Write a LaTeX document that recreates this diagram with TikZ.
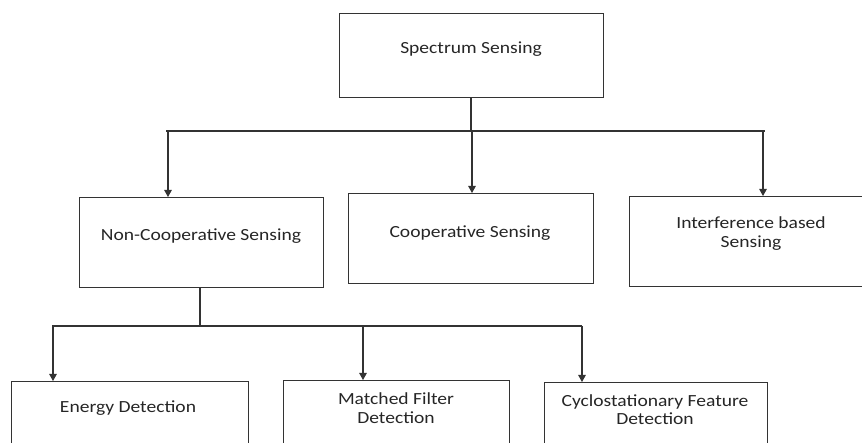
\documentclass[tikz,border=0pt]{standalone}
\usepackage{fontspec}
\setmainfont[FakeStretch=1.15]{Carlito}
\usetikzlibrary{arrows.meta}

\tikzset{
  box/.style={draw=black!80, line width=1.2pt, fill=white, minimum height=90pt, inner sep=0pt},
  lbl/.style={text=black!85, font=\fontsize{17}{18.5}\selectfont, align=center, inner sep=0pt},
  wire/.style={draw=black!80, line width=1.1pt},
  arr/.style={wire, -{Triangle[width=7.5pt,length=7pt]}},
}

\begin{document}
\begin{tikzpicture}[x=1pt, y=-1pt]
  \useasboundingbox (0,0) rectangle (862,443);
  \fill[white] (0,0) rectangle (862,443);
  \clip (0,0) rectangle (862,443);

  % root
  \node[box, minimum width=264pt, minimum height=84pt, anchor=north west] (root) at (339,13) {};
  \node[lbl] (roott) at (471,49) {Spectrum Sensing};

  % first level
  \node[box, minimum width=244pt, anchor=north west] (nc) at (79,197) {};
  \node[lbl] (nct) at (201,236) {Non-Cooperative Sensing};
  \node[box, minimum width=245pt, anchor=north west] (coop) at (348,193) {};
  \node[lbl] (coopt) at (470,233) {Cooperative Sensing};
  \node[box, minimum width=248pt, anchor=north west] (intf) at (629,196) {};
  \node[lbl] (intft) at (751,233.5) {Interference based\\Sensing};

  % second level
  \node[box, minimum width=237pt, minimum height=100pt, anchor=north west] (ed) at (11,381) {};
  \node[lbl] (edt) at (128,408) {Energy Detection};
  \node[box, minimum width=226pt, minimum height=100pt, anchor=north west] (mf) at (283,380) {};
  \node[lbl] (mft) at (396,408) {Matched Filter\\Detection};
  \node[box, minimum width=223pt, minimum height=100pt, anchor=north west] (cf) at (544,382) {};
  \node[lbl] (cft) at (655,409.5) {Cyclostationary Feature\\Detection};

  % connectors from the root
  \coordinate (j1) at (471,131);
  \coordinate (b1l) at (166,131);
  \coordinate (b1r) at (765,131);
  \coordinate (a1) at (168,131);
  \coordinate (a2) at (472,131);
  \coordinate (a3) at (763,131);
  \draw[wire] (root.south -| j1) -- (j1);
  \draw[wire] (b1l) -- (b1r);
  \draw[arr] (a1) -- (a1 |- nc.north);
  \draw[arr] (a2) -- (a2 |- coop.north);
  \draw[arr] (a3) -- (a3 |- intf.north);

  % connectors from non-cooperative sensing
  \coordinate (j2) at (200,326);
  \coordinate (b2l) at (52,326);
  \coordinate (b2r) at (582,326);
  \coordinate (c1) at (53,326);
  \coordinate (c2) at (363,326);
  \coordinate (c3) at (582,326);
  \draw[wire] (nc.south -| j2) -- (j2);
  \draw[wire] (b2l) -- (b2r);
  \draw[arr] (c1) -- (c1 |- ed.north);
  \draw[arr] (c2) -- (c2 |- mf.north);
  \draw[arr] (c3) -- (c3 |- cf.north);
\end{tikzpicture}
\end{document}
